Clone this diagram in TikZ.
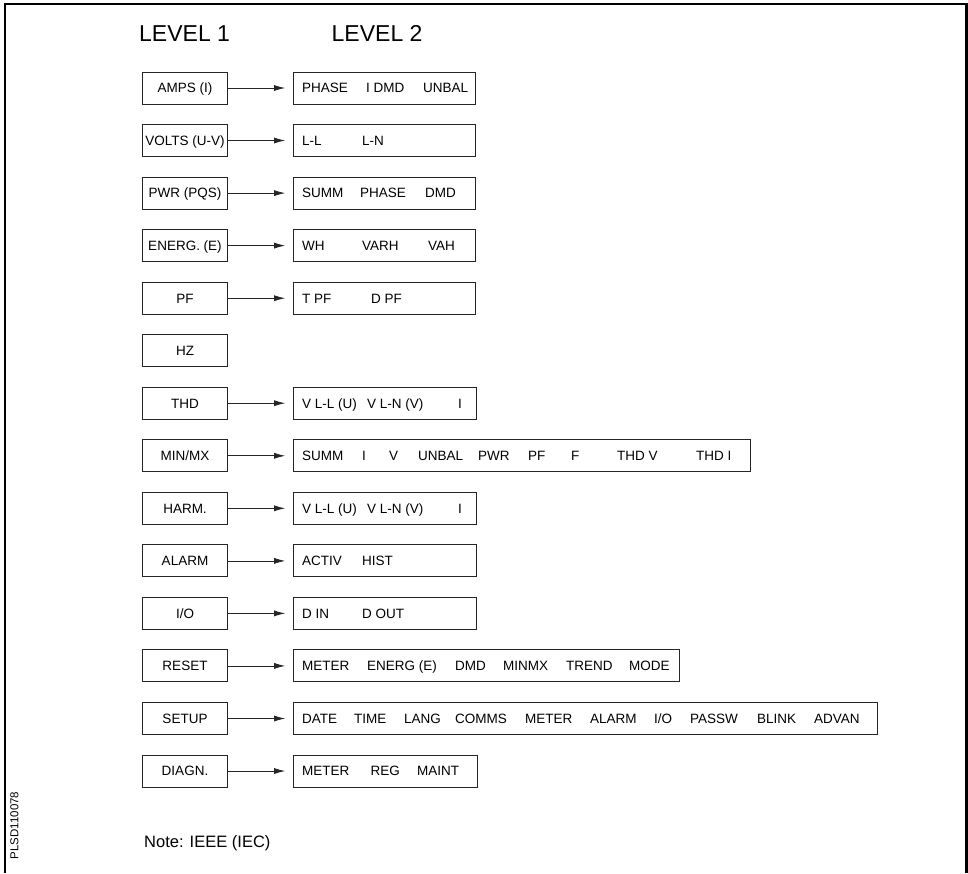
\documentclass[tikz,border=0pt]{standalone}
\usepackage{fontspec}
\setmainfont{Liberation Sans}
\usetikzlibrary{arrows.meta}
\begin{document}
\begin{tikzpicture}[x=1pt,y=-1pt,
  lonebox/.style={draw=black!85,line width=0.9pt,minimum width=85.5pt,minimum height=32pt,inner sep=0pt,font=\fontsize{13.5}{14}\selectfont,text height=9.7pt,text depth=0pt},
  ltwobox/.style={draw=black!85,line width=0.9pt,minimum height=32pt,inner sep=0pt,anchor=west},
  word/.style={anchor=west,inner sep=0pt,font=\fontsize{13.5}{14}\selectfont,text height=9.7pt,text depth=0pt},
  arr/.style={line width=0.8pt,draw=black!85,-{Latex[length=11pt,width=6pt]},shorten >=7.5pt}]
\useasboundingbox (0,0) rectangle (968,873);
% frame
\draw[line width=2.2pt] (5,873) -- (5,4) -- (966.5,4) -- (966.5,873);
% headers
\node[anchor=base west,inner sep=0pt,font=\fontsize{23}{24}\selectfont] (h1) at (139,41.7) {LEVEL 1};
\node[anchor=base west,inner sep=0pt,font=\fontsize{23}{24}\selectfont] (h2) at (331.5,41.7) {LEVEL 2};
% level 1 boxes
\node[lonebox] (a0) at (185,88) {AMPS (I)};
\node[lonebox] (a1) at (185,140.5) {VOLTS (U-V)};
\node[lonebox] (a2) at (185,193.1) {PWR (PQS)};
\node[lonebox] (a3) at (185,245.6) {ENERG. (E)};
\node[lonebox] (a4) at (185,298.2) {PF};
\node[lonebox] (a5) at (185,350.7) {HZ};
\node[lonebox] (a6) at (185,403.2) {THD};
\node[lonebox] (a7) at (185,455.8) {MIN/MX};
\node[lonebox] (a8) at (185,508.3) {HARM.};
\node[lonebox] (a9) at (185,560.9) {ALARM};
\node[lonebox] (a10) at (185,613.4) {I/O};
\node[lonebox] (a11) at (185,665.9) {RESET};
\node[lonebox] (a12) at (185,718.5) {SETUP};
\node[lonebox] (a13) at (185,771) {DIAGN.};
% level 2 boxes
\node[ltwobox,minimum width=182pt] (b0) at (292.7,88) {};
\node[ltwobox,minimum width=182pt] (b1) at (292.7,140.5) {};
\node[ltwobox,minimum width=182pt] (b2) at (292.7,193.1) {};
\node[ltwobox,minimum width=182pt] (b3) at (292.7,245.6) {};
\node[ltwobox,minimum width=182pt] (b4) at (292.7,298.2) {};
\node[ltwobox,minimum width=183pt] (b6) at (292.7,403.2) {};
\node[ltwobox,minimum width=457pt] (b7) at (292.7,455.8) {};
\node[ltwobox,minimum width=183pt] (b8) at (292.7,508.3) {};
\node[ltwobox,minimum width=183pt] (b9) at (292.7,560.9) {};
\node[ltwobox,minimum width=183pt] (b10) at (292.7,613.4) {};
\node[ltwobox,minimum width=386pt] (b11) at (292.7,665.9) {};
\node[ltwobox,minimum width=584pt] (b12) at (292.7,718.5) {};
\node[ltwobox,minimum width=184pt] (b13) at (292.7,771) {};
% arrows
\foreach \i in {0,1,2,3,4,6,7,8,9,10,11,12,13} {\draw[arr] (a\i) -- (b\i);}
% words
\node[word] (w0a) at (302,88) {PHASE};
\node[word] (w0b) at (366,88) {I DMD};
\node[word] (w0c) at (423,88) {UNBAL};
\node[word] (w1a) at (302,140.5) {L-L};
\node[word] (w1b) at (362,140.5) {L-N};
\node[word] (w2a) at (302,193.1) {SUMM};
\node[word] (w2b) at (360,193.1) {PHASE};
\node[word] (w2c) at (425,193.1) {DMD};
\node[word] (w3a) at (302,245.6) {WH};
\node[word] (w3b) at (362,245.6) {VARH};
\node[word] (w3c) at (428,245.6) {VAH};
\node[word] (w4a) at (302,298.2) {T PF};
\node[word] (w4b) at (371,298.2) {D PF};
\node[word] (w6a) at (302,403.2) {V L-L (U)};
\node[word] (w6b) at (367,403.2) {V L-N (V)};
\node[word] (w6c) at (458,403.2) {I};
\node[word] (w7a) at (302,455.8) {SUMM};
\node[word] (w7b) at (362,455.8) {I};
\node[word] (w7c) at (389,455.8) {V};
\node[word] (w7d) at (418,455.8) {UNBAL};
\node[word] (w7e) at (478,455.8) {PWR};
\node[word] (w7f) at (528,455.8) {PF};
\node[word] (w7g) at (571,455.8) {F};
\node[word] (w7h) at (617,455.8) {THD V};
\node[word] (w7i) at (696,455.8) {THD I};
\node[word] (w8a) at (302,508.3) {V L-L (U)};
\node[word] (w8b) at (367,508.3) {V L-N (V)};
\node[word] (w8c) at (458,508.3) {I};
\node[word] (w9a) at (302,560.9) {ACTIV};
\node[word] (w9b) at (362,560.9) {HIST};
\node[word] (w10a) at (302,613.4) {D IN};
\node[word] (w10b) at (362,613.4) {D OUT};
\node[word] (w11a) at (302,665.9) {METER};
\node[word] (w11b) at (367,665.9) {ENERG (E)};
\node[word] (w11c) at (455,665.9) {DMD};
\node[word] (w11d) at (503,665.9) {MINMX};
\node[word] (w11e) at (566,665.9) {TREND};
\node[word] (w11f) at (629,665.9) {MODE};
\node[word] (w12a) at (302,718.5) {DATE};
\node[word] (w12b) at (354,718.5) {TIME};
\node[word] (w12c) at (404,718.5) {LANG};
\node[word] (w12d) at (455,718.5) {COMMS};
\node[word] (w12e) at (525,718.5) {METER};
\node[word] (w12f) at (590,718.5) {ALARM};
\node[word] (w12g) at (654,718.5) {I/O};
\node[word] (w12h) at (690,718.5) {PASSW};
\node[word] (w12i) at (757,718.5) {BLINK};
\node[word] (w12j) at (814,718.5) {ADVAN};
\node[word] (w13a) at (302,771) {METER};
\node[word] (w13b) at (370.5,771) {REG};
\node[word] (w13c) at (417,771) {MAINT};
% note
\node[anchor=base west,inner sep=0pt,font=\fontsize{16.5}{18}\selectfont] (note) at (144,847.3) {Note: IEEE (IEC)};
% code
\node[rotate=90,inner sep=0pt,font=\fontsize{11.5}{12}\selectfont] (code) at (14.5,825.5) {PLSD110078};
\end{tikzpicture}
\end{document}
